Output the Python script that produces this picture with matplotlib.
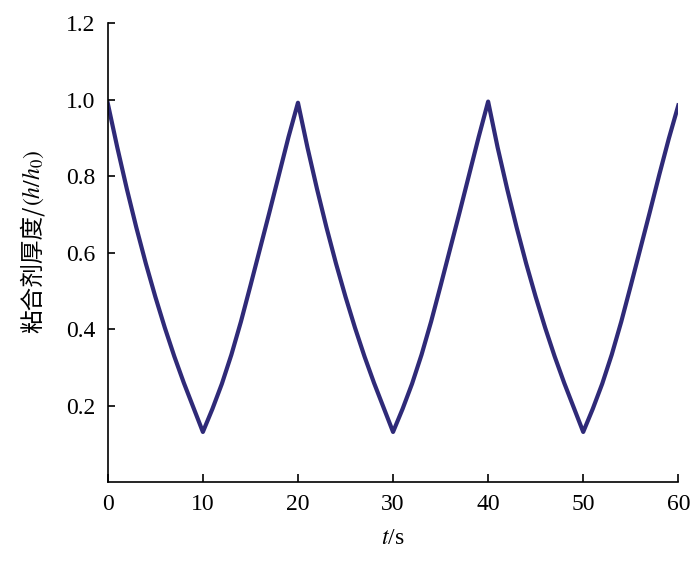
import numpy as np
import matplotlib
matplotlib.use("Agg")
import matplotlib.pyplot as plt

plt.rcParams["font.family"] = ["Liberation Serif", "Noto Sans CJK SC"]
plt.rcParams["mathtext.fontset"] = "stix"

# =====================================================
# Data: adhesive thickness h/h0 vs time
# =====================================================
t = np.arange(0, 61, 1)

h_ratio = [
    0.990, 0.875, 0.767, 0.666, 0.572, 0.485, 0.404, 0.329, 0.260, 0.196,
    0.132, 0.192, 0.258, 0.334, 0.420, 0.514, 0.610, 0.706, 0.804, 0.902,
    0.992, 0.875, 0.767, 0.666, 0.572, 0.485, 0.404, 0.329, 0.260, 0.196,
    0.132, 0.192, 0.258, 0.334, 0.420, 0.514, 0.610, 0.706, 0.804, 0.902,
    0.995, 0.875, 0.767, 0.666, 0.572, 0.485, 0.404, 0.329, 0.260, 0.196,
    0.132, 0.192, 0.258, 0.334, 0.420, 0.514, 0.610, 0.706, 0.804, 0.898,
    0.985,
]

x_ticks = [0, 10, 20, 30, 40, 50, 60]
y_ticks = [0.2, 0.4, 0.6, 0.8, 1.0, 1.2]

# =====================================================
# Plot
# =====================================================
fig = plt.figure(figsize=(7, 5.63), dpi=100)
ax = fig.add_axes([0.154, 0.143, 0.815, 0.816])

ax.plot(t, h_ratio, color="#2f2a78", lw=3.0)

ax.set_xlim(0, 60)
ax.set_ylim(0, 1.2)
ax.set_xticks(x_ticks)
ax.set_yticks(y_ticks)
ax.set_yticklabels([f"{v:.1f}" for v in y_ticks])

ax.spines["top"].set_visible(False)
ax.spines["right"].set_visible(False)
ax.spines["left"].set_linewidth(1.2)
ax.spines["bottom"].set_linewidth(1.2)

ax.tick_params(axis="y", direction="in", length=5, width=1.2, pad=9, labelsize=17)
ax.tick_params(axis="x", direction="in", length=6, width=1.2, pad=8, labelsize=17)

ax.set_xlabel("$t$/s", fontsize=17, labelpad=10)

# y label: Chinese part + math part stacked (rotated)
lab_x = 0.046
t1 = fig.text(lab_x, 0.408, "粘合剂厚度/", rotation=90, ha="center", va="bottom",
              fontsize=17, family=["Noto Sans CJK SC"], fontweight="medium")
fig.canvas.draw()
bb = t1.get_window_extent()
top = bb.y1 / fig.bbox.height
fig.text(lab_x + 0.002, top, "$(h/h_0)$", rotation=90, ha="center", va="bottom",
         fontsize=17)

fig.savefig("out.png", dpi=100)
